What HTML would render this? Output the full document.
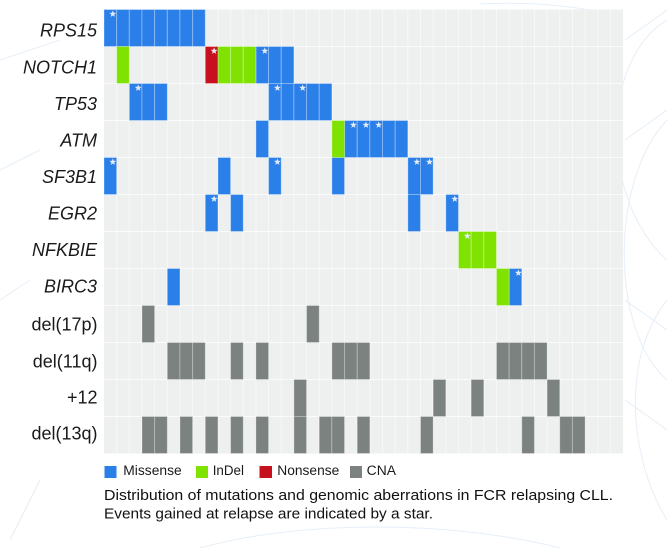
<!DOCTYPE html>
<html>
<head>
<meta charset="utf-8">
<style>
  html, body { margin: 0; padding: 0; background: #ffffff; }
  body { width: 667px; height: 548px; overflow: hidden; }
  svg { display: block; }
  .lab { font-family: "Liberation Sans", Arial, sans-serif; font-size: 18px; fill: #1a1a1a; }
  .it { font-style: italic; }
  .leg { font-family: "Liberation Sans", Arial, sans-serif; font-size: 13.5px; fill: #1a1a1a; }
  .cap { font-family: "Liberation Sans", Arial, sans-serif; font-size: 14.5px; fill: #111; }
</style>
</head>
<body>
<svg width="667" height="548" viewBox="0 0 667 548" xmlns="http://www.w3.org/2000/svg">
  <defs>
    <polygon id="st" points="0,-3.6 0.88,-1.21 3.42,-1.11 1.43,0.46 2.12,2.91 0,1.5 -2.12,2.91 -1.43,0.46 -3.42,-1.11 -0.88,-1.21" fill="#e4ebf6"/>
  </defs>

  <!-- faint decorative background arcs -->
  <g fill="none" stroke="#e6eef7" stroke-width="1">
    <path d="M667 20 C 600 60, 600 200, 667 260"/>
    <path d="M667 120 C 610 180, 610 330, 667 380"/>
    <path d="M625 40 L667 10"/>
    <path d="M625 140 L667 110"/>
    <path d="M625 300 L667 330"/>
    <path d="M625 400 L667 430"/>
    <path d="M667 300 C 620 360, 630 460, 667 520"/>
    <path d="M0 60 L60 40"/>
    <path d="M0 170 L40 150"/>
    <path d="M0 300 L30 280"/>
    <path d="M10 540 L40 480"/>
    <path d="M200 548 C 300 520, 450 520, 560 548"/>
    <path d="M600 12 C 560 4, 520 2, 480 4"/>
  </g>

  <!-- grid -->
  <g transform="translate(104 9.5) scale(12.66 37)">
    <rect x="0" y="0" width="41" height="12" fill="#eef0ef"/>
    <path vector-effect="non-scaling-stroke" stroke="#f6f8f7" stroke-width="1" fill="none"
      d="M1 0V12M2 0V12M3 0V12M4 0V12M5 0V12M6 0V12M7 0V12M8 0V12M9 0V12M10 0V12M11 0V12M12 0V12M13 0V12M14 0V12M15 0V12M16 0V12M17 0V12M18 0V12M19 0V12M20 0V12M21 0V12M22 0V12M23 0V12M24 0V12M25 0V12M26 0V12M27 0V12M28 0V12M29 0V12M30 0V12M31 0V12M32 0V12M33 0V12M34 0V12M35 0V12M36 0V12M37 0V12M38 0V12M39 0V12M40 0V12"/>
    <path vector-effect="non-scaling-stroke" stroke="#fafbfa" stroke-width="1" fill="none"
      d="M0 1H41M0 2H41M0 3H41M0 4H41M0 5H41M0 6H41M0 7H41M0 8H41M0 9H41M0 10H41M0 11H41"/>

    <!-- Missense (blue) -->
    <g fill="#2b7fe8" stroke="rgba(255,255,255,0.3)" stroke-width="1">
      <rect vector-effect="non-scaling-stroke" x="0" y="0" width="1" height="1"/>
      <rect vector-effect="non-scaling-stroke" x="1" y="0" width="1" height="1"/>
      <rect vector-effect="non-scaling-stroke" x="2" y="0" width="1" height="1"/>
      <rect vector-effect="non-scaling-stroke" x="3" y="0" width="1" height="1"/>
      <rect vector-effect="non-scaling-stroke" x="4" y="0" width="1" height="1"/>
      <rect vector-effect="non-scaling-stroke" x="5" y="0" width="1" height="1"/>
      <rect vector-effect="non-scaling-stroke" x="6" y="0" width="1" height="1"/>
      <rect vector-effect="non-scaling-stroke" x="7" y="0" width="1" height="1"/>

      <rect vector-effect="non-scaling-stroke" x="12" y="1" width="1" height="1"/>
      <rect vector-effect="non-scaling-stroke" x="13" y="1" width="1" height="1"/>
      <rect vector-effect="non-scaling-stroke" x="14" y="1" width="1" height="1"/>

      <rect vector-effect="non-scaling-stroke" x="2" y="2" width="1" height="1"/>
      <rect vector-effect="non-scaling-stroke" x="3" y="2" width="1" height="1"/>
      <rect vector-effect="non-scaling-stroke" x="4" y="2" width="1" height="1"/>
      <rect vector-effect="non-scaling-stroke" x="13" y="2" width="1" height="1"/>
      <rect vector-effect="non-scaling-stroke" x="14" y="2" width="1" height="1"/>
      <rect vector-effect="non-scaling-stroke" x="15" y="2" width="1" height="1"/>
      <rect vector-effect="non-scaling-stroke" x="16" y="2" width="1" height="1"/>
      <rect vector-effect="non-scaling-stroke" x="17" y="2" width="1" height="1"/>

      <rect vector-effect="non-scaling-stroke" x="12" y="3" width="1" height="1"/>
      <rect vector-effect="non-scaling-stroke" x="19" y="3" width="1" height="1"/>
      <rect vector-effect="non-scaling-stroke" x="20" y="3" width="1" height="1"/>
      <rect vector-effect="non-scaling-stroke" x="21" y="3" width="1" height="1"/>
      <rect vector-effect="non-scaling-stroke" x="22" y="3" width="1" height="1"/>
      <rect vector-effect="non-scaling-stroke" x="23" y="3" width="1" height="1"/>

      <rect vector-effect="non-scaling-stroke" x="0" y="4" width="1" height="1"/>
      <rect vector-effect="non-scaling-stroke" x="9" y="4" width="1" height="1"/>
      <rect vector-effect="non-scaling-stroke" x="13" y="4" width="1" height="1"/>
      <rect vector-effect="non-scaling-stroke" x="18" y="4" width="1" height="1"/>
      <rect vector-effect="non-scaling-stroke" x="24" y="4" width="1" height="1"/>
      <rect vector-effect="non-scaling-stroke" x="25" y="4" width="1" height="1"/>

      <rect vector-effect="non-scaling-stroke" x="8" y="5" width="1" height="1"/>
      <rect vector-effect="non-scaling-stroke" x="10" y="5" width="1" height="1"/>
      <rect vector-effect="non-scaling-stroke" x="24" y="5" width="1" height="1"/>
      <rect vector-effect="non-scaling-stroke" x="27" y="5" width="1" height="1"/>

      <rect vector-effect="non-scaling-stroke" x="5" y="7" width="1" height="1"/>
      <rect vector-effect="non-scaling-stroke" x="32" y="7" width="1" height="1"/>
    </g>

    <!-- InDel (green) -->
    <g fill="#80e200" stroke="rgba(255,255,255,0.3)" stroke-width="1">
      <rect vector-effect="non-scaling-stroke" x="1" y="1" width="1" height="1"/>
      <rect vector-effect="non-scaling-stroke" x="9" y="1" width="1" height="1"/>
      <rect vector-effect="non-scaling-stroke" x="10" y="1" width="1" height="1"/>
      <rect vector-effect="non-scaling-stroke" x="11" y="1" width="1" height="1"/>
      <rect vector-effect="non-scaling-stroke" x="18" y="3" width="1" height="1"/>
      <rect vector-effect="non-scaling-stroke" x="28" y="6" width="1" height="1"/>
      <rect vector-effect="non-scaling-stroke" x="29" y="6" width="1" height="1"/>
      <rect vector-effect="non-scaling-stroke" x="30" y="6" width="1" height="1"/>
      <rect vector-effect="non-scaling-stroke" x="31" y="7" width="1" height="1"/>
    </g>

    <!-- Nonsense (red) -->
    <g fill="#c8111e" stroke="rgba(255,255,255,0.3)" stroke-width="1">
      <rect vector-effect="non-scaling-stroke" x="8" y="1" width="1" height="1"/>
    </g>

    <!-- CNA (gray) -->
    <g fill="#7c8280" stroke="rgba(255,255,255,0.28)" stroke-width="1">
      <rect vector-effect="non-scaling-stroke" x="3" y="8" width="1" height="1"/>
      <rect vector-effect="non-scaling-stroke" x="16" y="8" width="1" height="1"/>

      <rect vector-effect="non-scaling-stroke" x="5" y="9" width="1" height="1"/>
      <rect vector-effect="non-scaling-stroke" x="6" y="9" width="1" height="1"/>
      <rect vector-effect="non-scaling-stroke" x="7" y="9" width="1" height="1"/>
      <rect vector-effect="non-scaling-stroke" x="10" y="9" width="1" height="1"/>
      <rect vector-effect="non-scaling-stroke" x="12" y="9" width="1" height="1"/>
      <rect vector-effect="non-scaling-stroke" x="18" y="9" width="1" height="1"/>
      <rect vector-effect="non-scaling-stroke" x="19" y="9" width="1" height="1"/>
      <rect vector-effect="non-scaling-stroke" x="20" y="9" width="1" height="1"/>
      <rect vector-effect="non-scaling-stroke" x="31" y="9" width="1" height="1"/>
      <rect vector-effect="non-scaling-stroke" x="32" y="9" width="1" height="1"/>
      <rect vector-effect="non-scaling-stroke" x="33" y="9" width="1" height="1"/>
      <rect vector-effect="non-scaling-stroke" x="34" y="9" width="1" height="1"/>

      <rect vector-effect="non-scaling-stroke" x="15" y="10" width="1" height="1"/>
      <rect vector-effect="non-scaling-stroke" x="26" y="10" width="1" height="1"/>
      <rect vector-effect="non-scaling-stroke" x="29" y="10" width="1" height="1"/>
      <rect vector-effect="non-scaling-stroke" x="35" y="10" width="1" height="1"/>

      <rect vector-effect="non-scaling-stroke" x="3" y="11" width="1" height="1"/>
      <rect vector-effect="non-scaling-stroke" x="4" y="11" width="1" height="1"/>
      <rect vector-effect="non-scaling-stroke" x="6" y="11" width="1" height="1"/>
      <rect vector-effect="non-scaling-stroke" x="8" y="11" width="1" height="1"/>
      <rect vector-effect="non-scaling-stroke" x="10" y="11" width="1" height="1"/>
      <rect vector-effect="non-scaling-stroke" x="12" y="11" width="1" height="1"/>
      <rect vector-effect="non-scaling-stroke" x="15" y="11" width="1" height="1"/>
      <rect vector-effect="non-scaling-stroke" x="17" y="11" width="1" height="1"/>
      <rect vector-effect="non-scaling-stroke" x="18" y="11" width="1" height="1"/>
      <rect vector-effect="non-scaling-stroke" x="20" y="11" width="1" height="1"/>
      <rect vector-effect="non-scaling-stroke" x="25" y="11" width="1" height="1"/>
      <rect vector-effect="non-scaling-stroke" x="33" y="11" width="1" height="1"/>
      <rect vector-effect="non-scaling-stroke" x="36" y="11" width="1" height="1"/>
      <rect vector-effect="non-scaling-stroke" x="37" y="11" width="1" height="1"/>
    </g>
  </g>

  <!-- stars: events gained at relapse -->
  <g>
    <use href="#st" x="112.8" y="14"/>
    <use href="#st" x="214.1" y="51"/>
    <use href="#st" x="264.8" y="51"/>
    <use href="#st" x="138.2" y="88"/>
    <use href="#st" x="277.4" y="88"/>
    <use href="#st" x="302.7" y="88"/>
    <use href="#st" x="353.4" y="125"/>
    <use href="#st" x="366.0" y="125"/>
    <use href="#st" x="378.7" y="125"/>
    <use href="#st" x="112.8" y="162"/>
    <use href="#st" x="277.4" y="162"/>
    <use href="#st" x="416.9" y="162"/>
    <use href="#st" x="429.5" y="162"/>
    <use href="#st" x="214.1" y="199"/>
    <use href="#st" x="454.8" y="199"/>
    <use href="#st" x="467.3" y="236"/>
    <use href="#st" x="518.4" y="273"/>
  </g>

  <!-- row labels -->
  <g text-anchor="end">
    <text class="lab it" x="97" y="36.7">RPS15</text>
    <text class="lab it" x="97" y="73.3">NOTCH1</text>
    <text class="lab it" x="97" y="109.8">TP53</text>
    <text class="lab it" x="97" y="146.3">ATM</text>
    <text class="lab it" x="97" y="182.8">SF3B1</text>
    <text class="lab it" x="97" y="219.3">EGR2</text>
    <text class="lab it" x="97" y="256">NFKBIE</text>
    <text class="lab it" x="97" y="292.7">BIRC3</text>
    <text class="lab" x="97.5" y="330.3">del(17p)</text>
    <text class="lab" x="97.5" y="367.5">del(11q)</text>
    <text class="lab" x="97.5" y="403.5">+12</text>
    <text class="lab" x="97.5" y="439.5">del(13q)</text>
  </g>

  <!-- legend -->
  <rect x="104.5" y="466" width="12" height="12" fill="#2b7fe8"/>
  <text class="leg" x="123.3" y="474.8" textLength="58.4" lengthAdjust="spacingAndGlyphs">Missense</text>
  <rect x="196" y="466" width="12" height="12" fill="#80e200"/>
  <text class="leg" x="212.7" y="474.8" textLength="31.3" lengthAdjust="spacingAndGlyphs">InDel</text>
  <rect x="259.5" y="466" width="12.5" height="12" fill="#c8111e"/>
  <text class="leg" x="277.3" y="474.8" textLength="62" lengthAdjust="spacingAndGlyphs">Nonsense</text>
  <rect x="350" y="466" width="12" height="12" fill="#7c8280"/>
  <text class="leg" x="366.7" y="474.8" textLength="29.3" lengthAdjust="spacingAndGlyphs">CNA</text>

  <!-- caption -->
  <text class="cap" x="104" y="500.2" textLength="509" lengthAdjust="spacingAndGlyphs">Distribution of mutations and genomic aberrations in FCR relapsing CLL.</text>
  <text class="cap" x="104" y="518.6" textLength="329" lengthAdjust="spacingAndGlyphs">Events gained at relapse are indicated by a star.</text>
</svg>
</body>
</html>
